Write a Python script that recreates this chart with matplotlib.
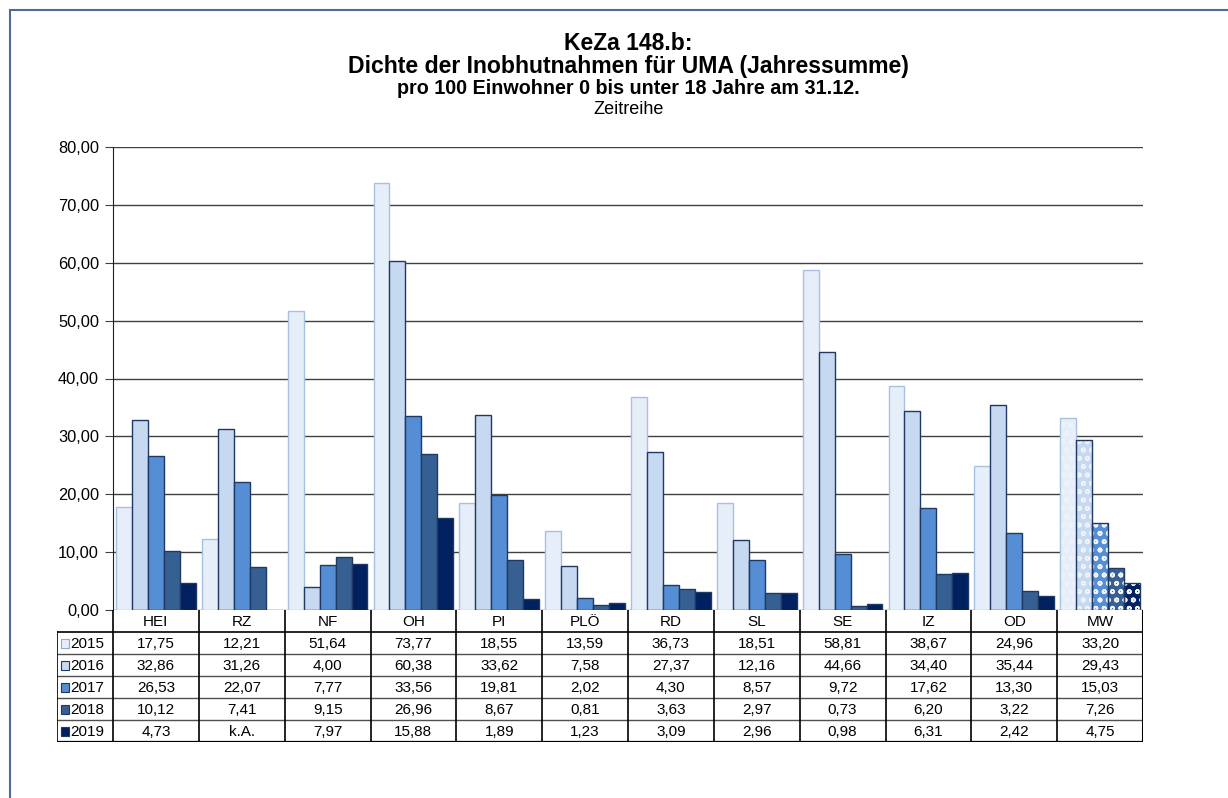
import numpy as np
import matplotlib
matplotlib.use("Agg")
import matplotlib.pyplot as plt
from matplotlib.patches import Rectangle

plt.rcParams['font.family'] = ['Liberation Sans', 'DejaVu Sans']
plt.rcParams['hatch.linewidth'] = 1.2

# Kreise / Mittelwert
kreise = ['HEI', 'RZ', 'NF', 'OH', 'PI', 'PLÖ', 'RD', 'SL', 'SE', 'IZ', 'OD', 'MW']
jahre = ['2015', '2016', '2017', '2018', '2019']

w2015 = [17.75, 12.21, 51.64, 73.77, 18.55, 13.59, 36.73, 18.51, 58.81, 38.67, 24.96, 33.20]
w2016 = [32.86, 31.26, 4.00, 60.38, 33.62, 7.58, 27.37, 12.16, 44.66, 34.40, 35.44, 29.43]
w2017 = [26.53, 22.07, 7.77, 33.56, 19.81, 2.02, 4.30, 8.57, 9.72, 17.62, 13.30, 15.03]
w2018 = [10.12, 7.41, 9.15, 26.96, 8.67, 0.81, 3.63, 2.97, 0.73, 6.20, 3.22, 7.26]
w2019 = [4.73, None, 7.97, 15.88, 1.89, 1.23, 3.09, 2.96, 0.98, 6.31, 2.42, 4.75]  # RZ: keine Angabe

reihen = [w2015, w2016, w2017, w2018, w2019]
farben = ['#E6EEF9', '#C6D9F1', '#558ED5', '#376092', '#002060']
rahmen = ['#A9C1E0', '#1F3864', '#1F3864', '#1F3864', '#1F3864']

W, H = 1228, 798
fig = plt.figure(figsize=(W / 100, H / 100), dpi=100)


def fx(px):
    return px / W


def fy(py):
    return 1 - py / H


# Rahmen um das Diagramm
fig.add_artist(Rectangle((fx(10), fy(H + 5)), fx(W + 5) - fx(10), fy(10) - fy(H + 5),
                         transform=fig.transFigure, fill=False,
                         edgecolor='#4F6A9A', linewidth=1.5))

# Titel
fig.text(0.512, fy(43), 'KeZa 148.b:', ha='center', va='center', fontsize=16.5, fontweight='bold')
fig.text(0.512, fy(66), 'Dichte der Inobhutnahmen für UMA (Jahressumme)', ha='center', va='center',
         fontsize=16.6, fontweight='bold')
fig.text(0.512, fy(89), 'pro 100 Einwohner 0 bis unter 18 Jahre am 31.12.', ha='center', va='center',
         fontsize=14.2, fontweight='bold')
fig.text(0.512, fy(109), 'Zeitreihe', ha='center', va='center', fontsize=13)

# Balkendiagramm
x0, x1, ytop, ybot = 113, 1143, 147, 610
ax = fig.add_axes([fx(x0), fy(ybot), fx(x1) - fx(x0), fy(ytop) - fy(ybot)])
ax.set_xlim(-0.5, len(kreise) - 0.5)
ax.set_ylim(0, 80)
ax.set_yticks(np.arange(0, 81, 10))
ax.set_yticklabels([f'{v:.2f}'.replace('.', ',') for v in np.arange(0, 81, 10)], fontsize=11.8)
ax.set_xticks([])
ax.yaxis.grid(True, color='#404040', linewidth=1.0)
ax.set_axisbelow(True)
for s in ['top', 'right', 'bottom']:
    ax.spines[s].set_visible(False)
ax.spines['left'].set_color('#202020')
ax.tick_params(axis='y', length=6, color='#404040', pad=4)

bw = 0.186
xs = np.arange(len(kreise))
n = len(kreise)
for i, werte in enumerate(reihen):
    off = (i - 2) * bw
    hoehen = [np.nan if v is None else v for v in werte]
    # normale Kreise
    ax.bar(xs[:-1] + off, hoehen[:-1], width=bw, color=farben[i], edgecolor=rahmen[i],
           linewidth=1.0, zorder=3)
    # Mittelwert mit Muster
    ax.bar(xs[-1] + off, hoehen[-1], width=bw, color=farben[i], edgecolor='none', zorder=3)
    ax.bar(xs[-1] + off, hoehen[-1], width=bw, color='none', edgecolor='#EEF3FB',
           hatch='oo', linewidth=0, zorder=4)
    ax.bar(xs[-1] + off, hoehen[-1], width=bw, color='none', edgecolor=rahmen[i],
           linewidth=1.0, zorder=5)

# Datentabelle
tx0, tx1 = 57, 1143
row_h = 22
t_top = ybot
tab = fig.add_axes([fx(tx0), fy(t_top + 6 * row_h), fx(tx1) - fx(tx0), fy(t_top) - fy(t_top + 6 * row_h)])
lab_w = (x0 - tx0) / ((x1 - x0) / n)
tab.set_xlim(-0.5 - lab_w, n - 0.5)
tab.set_ylim(6, 0)
tab.axis('off')

lc = '#000000'
fs_tab = 11
# Kopfzeile
for j, k in enumerate(kreise):
    tab.text(j, 0.55, k, ha='center', va='center', fontsize=fs_tab)
# horizontale Linien
tab.plot([-0.5 - lab_w, n - 0.5], [1, 1], color=lc, lw=1.2)
for r in range(2, 6):
    tab.plot([-0.5 - lab_w, n - 0.5], [r, r], color='#505050', lw=1.0)
tab.plot([-0.5 - lab_w, n - 0.5], [6, 6], color=lc, lw=1.6)
# vertikale Linien
tab.plot([-0.5 - lab_w, -0.5 - lab_w], [1, 6], color=lc, lw=1.2)
for j in range(n):
    tab.plot([j - 0.5, j - 0.5], [0, 6], color=lc, lw=1.2)
tab.plot([n - 0.5, n - 0.5], [0, 6], color=lc, lw=2.2)

# Werte und Legende
for i, (jahr, werte) in enumerate(zip(jahre, reihen)):
    r = i + 1.5
    tab.add_patch(Rectangle((-0.5 - lab_w + 0.05, r - 0.2), 0.095, 0.42,
                            facecolor=farben[i], edgecolor='#1F3864' if i else '#8EA9D0', lw=0.8))
    tab.text(-0.5 - lab_w + 0.16, r + 0.04, jahr, ha='left', va='center', fontsize=fs_tab)
    for j, v in enumerate(werte):
        txt = 'k.A.' if v is None else f'{v:.2f}'.replace('.', ',')
        tab.text(j, r + 0.04, txt, ha='center', va='center', fontsize=fs_tab)

fig.savefig('out.png', dpi=100)
